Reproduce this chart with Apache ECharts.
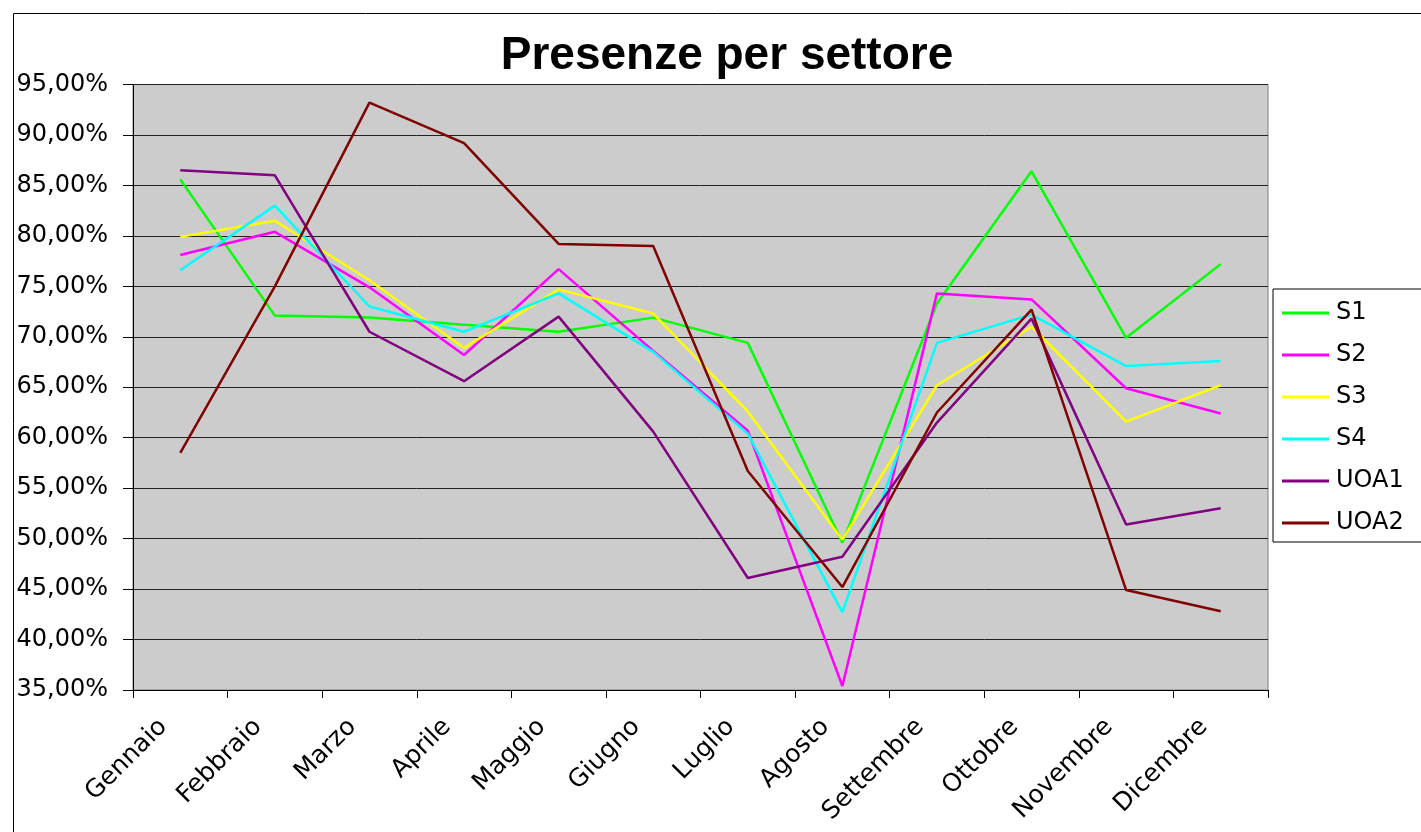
<!DOCTYPE html>
<html><head><meta charset="utf-8">
<script src="https://cdn.jsdelivr.net/npm/echarts@6/dist/echarts.min.js"></script>
<style>html,body{margin:0;padding:0;background:#fff;}#c{width:1421px;height:832px;}</style>
</head><body><div id="c"></div>
<script>
const categories = ['Gennaio','Febbraio','Marzo','Aprile','Maggio','Giugno','Luglio','Agosto','Settembre','Ottobre','Novembre','Dicembre'];
const S1   = [85.6, 72.1, 71.9, 71.2, 70.5, 71.9, 69.4, 49.6, 73.3, 86.4, 69.9, 77.2];
const S2   = [78.1, 80.4, 74.9, 68.2, 76.7, 68.6, 60.7, 35.4, 74.3, 73.7, 64.9, 62.4];
const S3   = [79.9, 81.5, 75.6, 68.9, 74.7, 72.3, 62.6, 49.9, 65.2, 71.0, 61.6, 65.2];
const S4   = [76.6, 83.0, 73.0, 70.5, 74.3, 68.5, 60.4, 42.7, 69.4, 72.2, 67.1, 67.6];
const UOA1 = [86.5, 86.0, 70.5, 65.6, 72.0, 60.6, 46.1, 48.2, 61.5, 71.8, 51.4, 53.0];
const UOA2 = [58.5, 75.0, 93.2, 89.2, 79.2, 79.0, 56.7, 45.2, 62.5, 72.7, 44.9, 42.8];
const seriesNames = ['S1','S2','S3','S4','UOA1','UOA2'];
const seriesData = [S1, S2, S3, S4, UOA1, UOA2];
const colors = ['#00ff00','#ff00ff','#ffff00','#00ffff','#800080','#800000'];

const chart = echarts.init(document.getElementById('c'));
const font = 'DejaVu Sans, Liberation Sans, sans-serif';
chart.setOption({
  animation: false,
  color: colors,
  title: {
    text: 'Presenze per settore', left: 722, top: 28, textAlign: 'center',
    textStyle: {fontFamily: 'Liberation Sans, Arial, sans-serif', fontSize: 46, fontWeight: 'bold', color: '#000'}
  },
  graphic: [{
    type: 'rect', left: 11, top: 11, silent: true,
    shape: {x: 0, y: 0, width: 1440, height: 850},
    style: {fill: 'none', stroke: '#000', lineWidth: 1}
  }],
  legend: {
    orient: 'vertical', left: 1273, top: 289,
    itemWidth: 47, itemHeight: 3, itemGap: 16,
    padding: [11, 40, 6, 9],
    borderColor: '#000', borderWidth: 1,
    icon: 'rect',
    textStyle: {fontFamily: font, fontSize: 24, lineHeight: 26, color: '#000', padding: [0,0,0,2]},
    data: seriesNames
  },
  grid: {left: 133, right: 153, top: 84.5, bottom: 142, show: true,
    backgroundColor: '#cccccc', borderColor: '#808080', borderWidth: 1},
  xAxis: {
    type: 'category', data: categories, boundaryGap: true,
    axisLine: {lineStyle: {color: '#000', width: 1}},
    axisTick: {show: true, length: 8, lineStyle: {color: '#000'}},
    axisLabel: {rotate: 45, fontFamily: font, fontSize: 25, color: '#000', margin: 16, interval: 0,
      padding: [0, 24, 0, 0]}
  },
  yAxis: {
    type: 'value', min: 35, max: 95, interval: 5,
    axisLine: {show: true, lineStyle: {color: '#000', width: 1}},
    axisTick: {show: true, length: 10, lineStyle: {color: '#000'}},
    splitLine: {lineStyle: {color: '#222', width: 1}},
    axisLabel: {fontFamily: font, fontSize: 24, color: '#000', margin: 25,
      formatter: v => v.toFixed(2).replace('.', ',') + '%'}
  },
  series: seriesNames.map((n, i) => ({
    name: n, type: 'line', data: seriesData[i], symbol: 'none',
    lineStyle: {width: 2.5, color: colors[i]}, itemStyle: {color: colors[i]}
  }))
});
</script></body></html>
